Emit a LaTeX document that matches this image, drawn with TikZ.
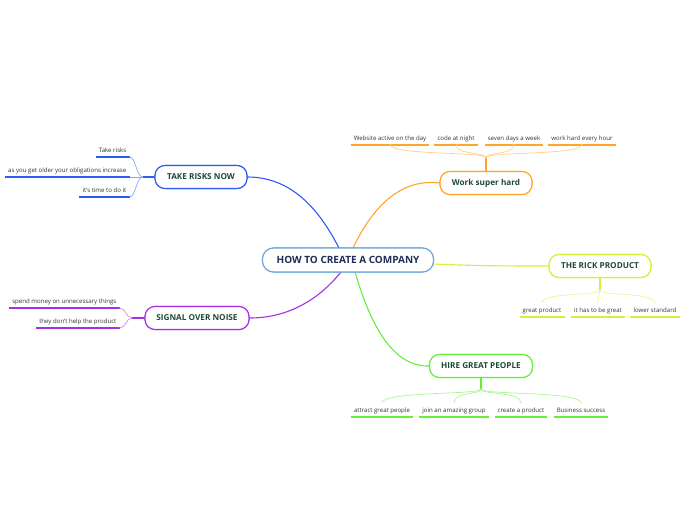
\documentclass[tikz,border=0pt]{standalone}
\usepackage{fontspec}
\setmainfont{Open Sans}
\definecolor{cblue}{HTML}{2F5BF5}
\definecolor{corange}{HTML}{FFA52A}
\definecolor{cyel}{HTML}{D2F03C}
\definecolor{cgreen}{HTML}{66EE38}
\definecolor{cpurple}{HTML}{A82EE6}
\definecolor{ccentral}{HTML}{6BA6DC}
\definecolor{tnavy}{HTML}{1E2E55}
\definecolor{tgreen}{HTML}{1D4A3A}
\definecolor{tleaf}{HTML}{333333}
\begin{document}
\begin{tikzpicture}[x=1pt,y=-1pt,
  central/.style={draw=ccentral, line width=1.1pt, rounded corners=11pt, fill=white, minimum width=171pt, minimum height=24pt, text=tnavy, font=\fontsize{10}{11}\selectfont\bfseries, inner sep=0pt},
  topic/.style={draw=#1, line width=1.1pt, rounded corners=10pt, fill=white, minimum height=23pt, text=tgreen, font=\fontsize{8.2}{9}\selectfont\bfseries, inner sep=0pt},
  leaf/.style={text=tleaf, font=\fontsize{6.1}{7}\selectfont, inner xsep=3pt, inner ysep=2.5pt, text height=4.6pt, text depth=1.4pt, anchor=south},
  uline/.style={draw=#1, line width=1.6pt},
  thin/.style={draw=#1!55, line width=0.7pt},
  main/.style={draw=#1, line width=1.1pt}]
\useasboundingbox (0,0) rectangle (696,520);

\node[central] (c) at (348,260) {HOW TO CREATE A COMPANY};
\node[topic=corange, minimum width=92pt] (work) at (486,183) {Work super hard};
\node[topic=cblue, minimum width=92pt] (risk) at (201,177) {TAKE RISKS NOW};
\node[topic=cpurple, minimum width=104pt] (sig) at (197,318) {SIGNAL OVER NOISE};
\node[topic=cyel, minimum width=102pt] (rick) at (600,266) {THE RICK PRODUCT};
\node[topic=cgreen, minimum width=103pt] (hire) at (481,366) {HIRE GREAT PEOPLE};

% main edges
\draw[main=corange] (353,248) .. controls (372,208) and (400,178) .. (work.west);
\draw[main=cblue] (risk.east) .. controls (295,177) and (322,215) .. (339,248);
\draw[main=cpurple] (341,272) .. controls (320,298) and (290,318) .. (sig.east);
\draw[main=cgreen] (355,272) .. controls (372,330) and (395,367) .. (hire.west);
\draw[main=cyel] (433,264) .. controls (480,266) and (510,266) .. (rick.west);

% redraw node borders over edges
\node[central] at (348,260) {HOW TO CREATE A COMPANY};
\node[topic=corange, minimum width=92pt] at (486,183) {Work super hard};
\node[topic=cblue, minimum width=92pt] at (201,177) {TAKE RISKS NOW};
\node[topic=cpurple, minimum width=104pt] at (197,318) {SIGNAL OVER NOISE};
\node[topic=cyel, minimum width=102pt] at (600,266) {THE RICK PRODUCT};
\node[topic=cgreen, minimum width=103pt] at (481,366) {HIRE GREAT PEOPLE};

% Work super hard leaves
\node[leaf] (w1) at (390,145) {Website active on the day};
\node[leaf] (w2) at (456,145) {code at night};
\node[leaf] (w3) at (514,145) {seven days a week};
\node[leaf] (w4) at (582,145) {work hard every hour};
\foreach \n in {w1,w2,w3,w4} \draw[uline=corange] (\n.south west) -- (\n.south east);
\coordinate (ws) at (486,158);
\draw[corange, line width=1.1pt] (work.north) -- (ws);
\foreach \n in {w1,w2,w3,w4} \draw[thin=corange] (ws) .. controls (486,151) and (\n.south |- 0,156) .. ([yshift=1pt]\n.south);

% Take risks leaves
\node[leaf, anchor=south east] (r1) at (129.5,157) {Take risks};
\node[leaf, anchor=south east] (r2) at (129.5,177) {as you get older your obligations increase};
\node[leaf, anchor=south east] (r3) at (129.5,197) {it's time to do it};
\foreach \n in {r1,r2,r3} \draw[uline=cblue] (\n.south west) -- (\n.south east);
\coordinate (rs) at (143,177);
\draw[cblue, line width=1.1pt] (risk.west) -- (rs);
\foreach \n in {r1,r2,r3} \draw[thin=cblue] (rs) .. controls (136,177) and (136,0 |- \n.south) .. (\n.south east);

% Signal leaves
\node[leaf, anchor=south east] (s1) at (119.5,308) {spend money on unnecessary things};
\node[leaf, anchor=south east] (s2) at (119.5,328) {they don't help the product};
\foreach \n in {s1,s2} \draw[uline=cpurple] (\n.south west) -- (\n.south east);
\coordinate (ss) at (132,318);
\draw[cpurple, line width=1.1pt] (sig.west) -- (ss);
\foreach \n in {s1,s2} \draw[thin=cpurple] (ss) .. controls (126,318) and (126,0 |- \n.south) .. (\n.south east);

% Rick leaves
\node[leaf] (k1) at (542,317) {great product};
\node[leaf] (k2) at (598,317) {it has to be great};
\node[leaf] (k3) at (655,317) {lower standard};
\foreach \n in {k1,k2,k3} \draw[uline=cyel] (\n.south west) -- (\n.south east);
\coordinate (ks) at (600,290);
\draw[cyel, line width=1.1pt] (rick.south) -- (ks);
\foreach \n in {k1,k2,k3} \draw[thin=cyel] (ks) .. controls (600,296) and (\n.south |- 0,292) .. (\n.south |- 0,303);

% Hire leaves
\node[leaf] (h1) at (382,417) {attract great people};
\node[leaf] (h2) at (454,417) {join an amazing group};
\node[leaf] (h3) at (521,417) {create a product};
\node[leaf] (h4) at (581,417) {Business success};
\foreach \n in {h1,h2,h3,h4} \draw[uline=cgreen] (\n.south west) -- (\n.south east);
\coordinate (hs) at (481,389);
\draw[cgreen, line width=1.1pt] (hire.south) -- (hs);
\foreach \n in {h1,h2,h3,h4} \draw[thin=cgreen] (hs) .. controls (481,395) and (\n.south |- 0,391) .. (\n.south |- 0,403);
\end{tikzpicture}
\end{document}
